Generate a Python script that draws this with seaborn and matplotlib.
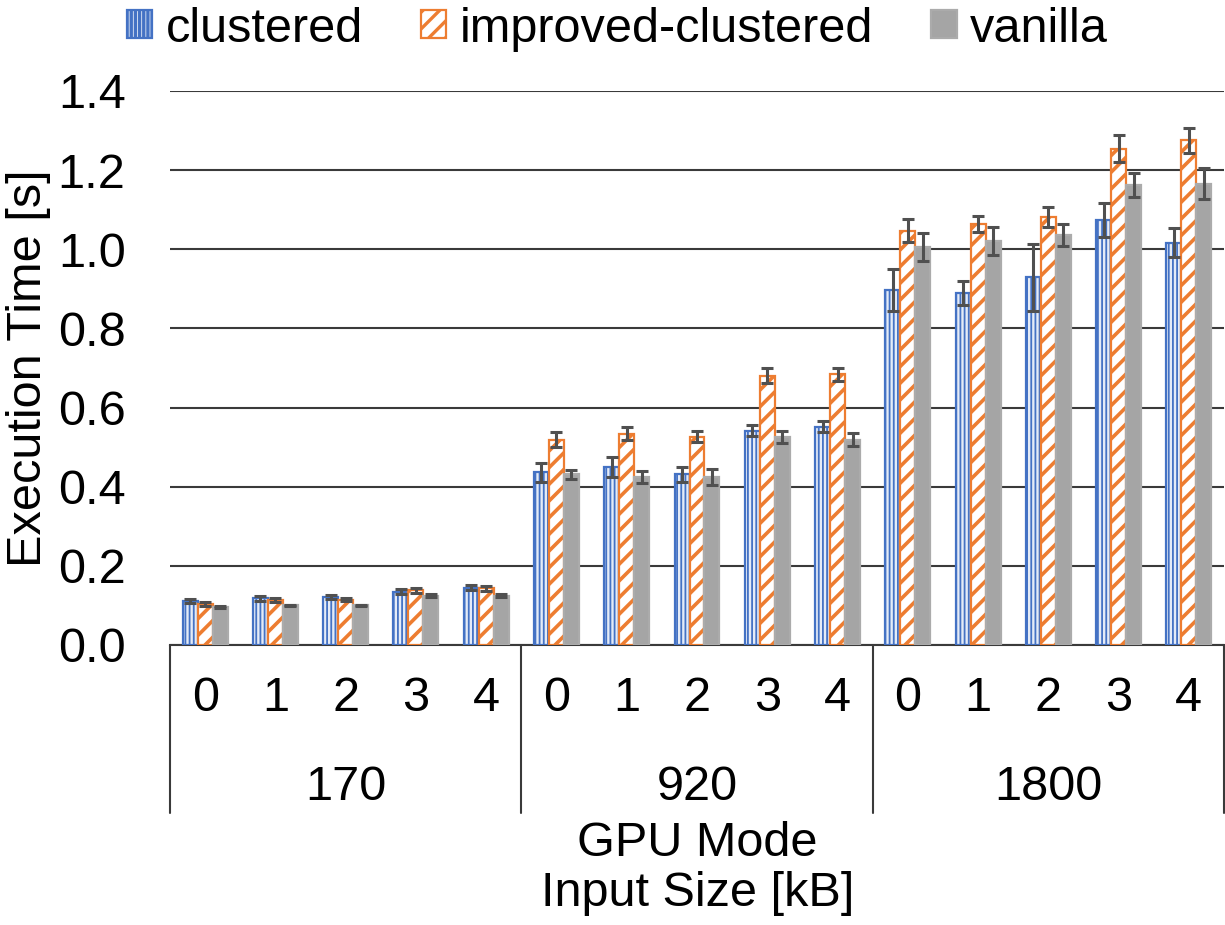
import numpy as np
import pandas as pd
import matplotlib
matplotlib.use("Agg")
import matplotlib.pyplot as plt
import matplotlib.transforms as mtransforms
from matplotlib.patches import Patch
import seaborn as sns

# ---- data ----
input_sizes = ["170", "920", "1800"]
gpu_modes = ["0", "1", "2", "3", "4"]
series = ["clustered", "improved-clustered", "vanilla"]

clustered = [0.111, 0.118, 0.121, 0.135, 0.145,
             0.437, 0.450, 0.431, 0.542, 0.552,
             0.896, 0.889, 0.929, 1.074, 1.017]
clustered_err = [0.006, 0.007, 0.006, 0.007, 0.007,
                 0.024, 0.025, 0.020, 0.015, 0.014,
                 0.053, 0.030, 0.084, 0.044, 0.036]
improved = [0.104, 0.114, 0.114, 0.138, 0.143,
            0.519, 0.534, 0.526, 0.681, 0.684,
            1.047, 1.063, 1.082, 1.254, 1.275]
improved_err = [0.005, 0.005, 0.004, 0.007, 0.007,
                0.019, 0.017, 0.014, 0.020, 0.017,
                0.029, 0.020, 0.025, 0.034, 0.032]
vanilla = [0.096, 0.100, 0.100, 0.125, 0.125,
           0.431, 0.425, 0.425, 0.526, 0.519,
           1.005, 1.021, 1.037, 1.163, 1.166]
vanilla_err = [0.002, 0.002, 0.002, 0.003, 0.003,
               0.012, 0.015, 0.020, 0.016, 0.017,
               0.035, 0.036, 0.028, 0.031, 0.040]

values = {"clustered": clustered, "improved-clustered": improved, "vanilla": vanilla}
errors = {"clustered": clustered_err, "improved-clustered": improved_err, "vanilla": vanilla_err}

rows = []
pos = 0
for si in input_sizes:
    for gm in gpu_modes:
        for s in series:
            rows.append({"pos": pos, "series": s, "value": values[s][pos], "err": errors[s][pos]})
        pos += 1
df = pd.DataFrame(rows)

# ---- style ----
sns.set_theme(style="white")
plt.rcParams["font.family"] = ["Liberation Sans", "DejaVu Sans"]
plt.rcParams["hatch.linewidth"] = 2.4
plt.rcParams["text.color"] = "black"
plt.rcParams["xtick.color"] = "black"
plt.rcParams["ytick.color"] = "black"
plt.rcParams["axes.labelcolor"] = "black"

FS = 35
line_col = "#3a3a3a"

fig = plt.figure(figsize=(12.25, 9.25), dpi=100)
ax = fig.add_axes([170 / 1225, 1 - 645 / 925, 1054 / 1225, (645 - 91) / 925])

palette = {"clustered": "#4472C4", "improved-clustered": "#ED7D31", "vanilla": "#A5A5A5"}
sns.barplot(data=df, x="pos", y="value", hue="series", hue_order=series,
            palette=palette, width=0.64, errorbar=None, ax=ax, legend=False,
            saturation=1, zorder=3)

styles = {
    "clustered": dict(face="#E4EBF7", edge="#4472C4", hatch="||||", hlw=1.3),
    "improved-clustered": dict(face="white", edge="#ED7D31", hatch="//", hlw=2.6),
    "vanilla": dict(face="#A5A5A5", edge="#ABABAB", hatch=None, hlw=1.0),
}

for s, cont in zip(series, ax.containers):
    st = styles[s]
    xs, ys = [], []
    for bar in cont:
        bar.set_facecolor(st["face"])
        bar.set_edgecolor(st["edge"])
        bar.set_linewidth(1.6)
        if st["hatch"]:
            bar.set_hatch(st["hatch"])
            if hasattr(bar, "set_hatch_linewidth"):
                bar.set_hatch_linewidth(st["hlw"])
        xs.append(bar.get_x() + bar.get_width() / 2)
        ys.append(bar.get_height())
    ax.errorbar(xs, ys, yerr=errors[s], fmt="none", ecolor="#505050",
                elinewidth=2.2, capsize=4.5, capthick=2.2, zorder=5)

# axes styling
ax.set_ylim(0, 1.4)
ax.set_xlim(-0.5, 14.5)
ax.set_yticks(np.arange(0, 1.41, 0.2))
ax.set_yticklabels([f"{v:.1f}" for v in np.arange(0, 1.41, 0.2)], fontsize=FS)
ax.yaxis.grid(True, color=line_col, linewidth=1.5, zorder=0)
ax.set_axisbelow(True)
for sp in ["left", "right", "top"]:
    ax.spines[sp].set_visible(False)
ax.spines["bottom"].set_color(line_col)
ax.spines["bottom"].set_linewidth(1.5)
ax.tick_params(axis="y", length=0, pad=32)
ax.tick_params(axis="x", length=0, pad=22)

ax.set_xticks(range(len(input_sizes) * len(gpu_modes)))
ax.set_xticklabels(gpu_modes * len(input_sizes), fontsize=FS)
ax.set_xlabel("")
ax.set_ylabel("Execution Time [s]", fontsize=FS)
ax.yaxis.set_label_coords(-(170 - 29) / 1054, 0.5)
ax.yaxis.label.set_va("center")
ax.yaxis.label.set_ha("center")

# multi-level category axis
trans = mtransforms.blended_transform_factory(ax.transData, ax.transAxes)
ax_h = 645 - 91
sep_bottom = -(813 - 645) / ax_h
for k in range(len(input_sizes) + 1):
    xk = k * len(gpu_modes) - 0.5
    ax.plot([xk, xk], [0, sep_bottom], transform=trans, color=line_col,
            linewidth=1.5, clip_on=False)
for k, lab in enumerate(input_sizes):
    xc = k * len(gpu_modes) + (len(gpu_modes) - 1) / 2
    ax.text(xc, -(787 - 645) / ax_h, lab, transform=trans, ha="center",
            va="center", fontsize=FS)

fig.text(0.5 * (170 + 1225) / 1225, 1 - 843 / 925, "GPU Mode", ha="center",
         va="center", fontsize=FS)
fig.text(0.5 * (170 + 1225) / 1225, 1 - 893 / 925, "Input Size [kB]", ha="center",
         va="center", fontsize=FS)

# legend
handles = []
for s in series:
    st = styles[s]
    handles.append(Patch(facecolor=st["face"], edgecolor=st["edge"],
                         hatch=st["hatch"], linewidth=1.6, label=s))
leg = fig.legend(handles=handles, loc="center", bbox_to_anchor=(0.504, 1 - 29 / 925),
                 ncol=3, frameon=False, fontsize=FS, handlelength=0.52,
                 handleheight=0.52, handletextpad=0.27, columnspacing=1.2)

fig.savefig("out.png", dpi=100)
